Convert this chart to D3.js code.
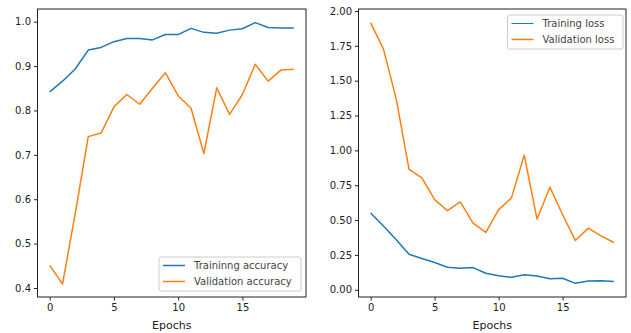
<!DOCTYPE html>
<html>
<head>
<meta charset="utf-8">
<script src="https://cdn.jsdelivr.net/npm/d3@7"></script>
<style>
  body { margin: 0; background: #fff; }
  svg { display: block; font-family: "DejaVu Sans", sans-serif; }
</style>
</head>
<body>
<svg id="chart" width="631" height="333"></svg>
<script>
// values
const epochs = d3.range(20);
const trainAcc = [0.842, 0.866, 0.894, 0.936, 0.942, 0.955, 0.962, 0.962, 0.959, 0.971,
                  0.971, 0.985, 0.976, 0.974, 0.981, 0.984, 0.998, 0.987, 0.986, 0.986];
const valAcc = [0.451, 0.409, 0.570, 0.741, 0.749, 0.808, 0.836, 0.814, 0.850, 0.885,
                0.833, 0.805, 0.703, 0.851, 0.791, 0.836, 0.904, 0.866, 0.891, 0.893];
const trainLoss = [0.550, 0.458, 0.358, 0.255, 0.224, 0.195, 0.161, 0.154, 0.159, 0.118,
                   0.101, 0.089, 0.108, 0.099, 0.079, 0.082, 0.046, 0.063, 0.065, 0.060];
const valLoss = [1.915, 1.726, 1.368, 0.863, 0.803, 0.647, 0.567, 0.630, 0.478, 0.411,
                 0.575, 0.659, 0.965, 0.507, 0.736, 0.538, 0.353, 0.442, 0.387, 0.339];

const xTicks = [0, 5, 10, 15];
const accTicks = [0.4, 0.5, 0.6, 0.7, 0.8, 0.9, 1.0];
const lossTicks = [0, 0.25, 0.5, 0.75, 1.0, 1.25, 1.5, 1.75, 2.0];

const BLUE = "#1f77b4", ORANGE = "#ff7f0e";

const svg = d3.select("#chart");

function drawPanel({ box, yDomain, yTicks, yFormat, series, legend }) {
  const x = d3.scaleLinear().domain([-0.95, 19.95]).range([box.left, box.right]);
  const y = d3.scaleLinear().domain(yDomain).range([box.bottom, box.top]);
  const g = svg.append("g");

  const line = d3.line().x((d, i) => x(epochs[i])).y(d => y(d));
  series.forEach(s => {
    g.append("path")
      .attr("d", line(s.values))
      .attr("fill", "none")
      .attr("stroke", s.color)
      .attr("stroke-width", 1.5)
      .attr("stroke-linejoin", "round");
  });

  const xAxis = g.append("g")
    .attr("transform", `translate(0,${box.bottom})`)
    .call(d3.axisBottom(x).tickValues(xTicks).tickSize(3.5).tickPadding(3).tickFormat(d3.format("d")));
  const yAxis = g.append("g")
    .attr("transform", `translate(${box.left},0)`)
    .call(d3.axisLeft(y).tickValues(yTicks).tickSize(3.5).tickPadding(3).tickFormat(yFormat));
  [xAxis, yAxis].forEach(a => {
    a.select(".domain").remove();
    a.selectAll("text").attr("font-size", 10).attr("fill", "#222")
      .attr("font-family", "DejaVu Sans, sans-serif");
    a.selectAll("line").attr("stroke", "#222");
  });

  g.append("rect")
    .attr("x", box.left).attr("y", box.top)
    .attr("width", box.right - box.left).attr("height", box.bottom - box.top)
    .attr("fill", "none").attr("stroke", "#222").attr("stroke-width", 1);

  g.append("text")
    .attr("x", (box.left + box.right) / 2).attr("y", 329)
    .attr("text-anchor", "middle").attr("font-size", 11).attr("fill", "#222")
    .text("Epochs");

  // legend
  const lg = g.append("g").attr("transform", `translate(${legend.x},${legend.y})`);
  lg.append("rect")
    .attr("width", legend.w).attr("height", 34).attr("rx", 2)
    .attr("fill", "#fff").attr("fill-opacity", 0.8)
    .attr("stroke", "#ccc").attr("stroke-width", 1);
  series.forEach((s, i) => {
    const yy = 8.5 + i * 16;
    lg.append("line").attr("x1", 4).attr("x2", 26).attr("y1", yy).attr("y2", yy)
      .attr("stroke", s.color).attr("stroke-width", s.legendWidth || 1.5);
    lg.append("text").attr("x", 35).attr("y", yy + 3.5)
      .attr("font-size", 10).attr("fill", "#444").text(s.label);
  });
}

drawPanel({
  box: { left: 37.5, right: 306, top: 9, bottom: 297 },
  yDomain: [0.3797, 1.0286],
  yTicks: accTicks,
  yFormat: d3.format(".1f"),
  series: [
    { values: trainAcc, color: BLUE, label: "Traininng accuracy" },
    { values: valAcc, color: ORANGE, label: "Validation accuracy" }
  ],
  legend: { x: 159, y: 257, w: 142 }
});

drawPanel({
  box: { left: 358.5, right: 626, top: 9, bottom: 297 },
  yDomain: [-0.052, 2.0143],
  yTicks: lossTicks,
  yFormat: d3.format(".2f"),
  series: [
    { values: trainLoss, color: BLUE, label: "Training loss", legendWidth: 1 },
    { values: valLoss, color: ORANGE, label: "Validation loss" }
  ],
  legend: { x: 507.5, y: 15, w: 115.5 }
});
</script>
</body>
</html>
